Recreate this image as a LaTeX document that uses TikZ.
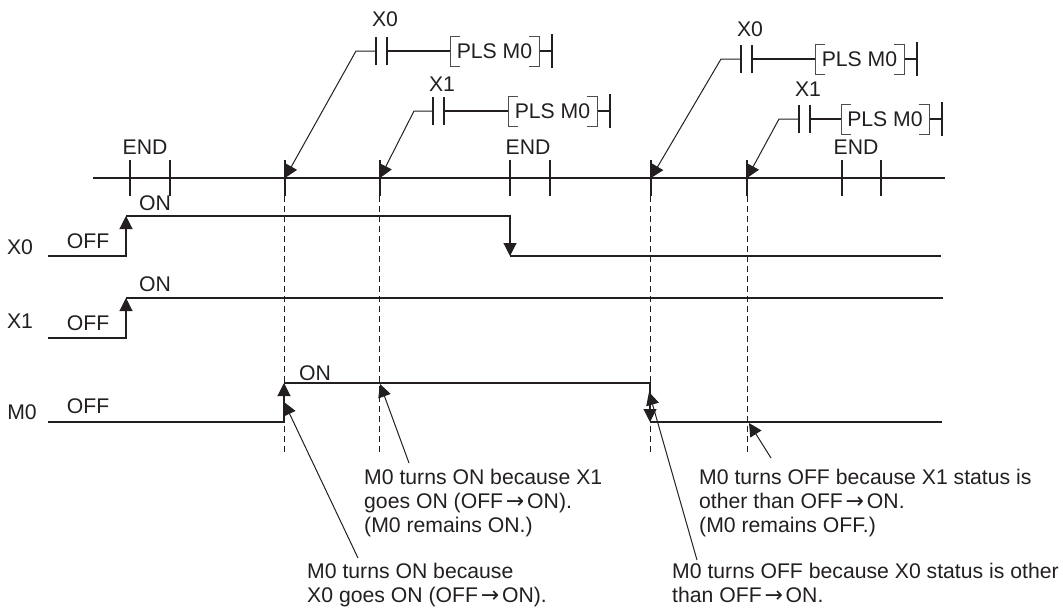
\documentclass[tikz,border=0pt]{standalone}
\usepackage{fontspec}
\setmainfont{Liberation Sans}
\newfontfamily\arrowfont{DejaVu Sans}
\usetikzlibrary{arrows.meta,positioning}
\definecolor{inkdark}{HTML}{231F20}
\newcommand{\toarrow}{\makebox[24pt]{\arrowfont\fontsize{22}{24}\selectfont →}}

\begin{document}
\begin{tikzpicture}[
  x=1pt, y=-1pt,
  every node/.style={font=\fontsize{21.2}{24}\selectfont, text=inkdark, inner sep=0pt},
  note/.style={align=left, anchor=base west},
  signal/.style={draw=inkdark, line width=1.3pt},
  tick/.style={draw=inkdark, line width=1.3pt},
  guide/.style={draw=inkdark, line width=0.7pt, dash pattern=on 6pt off 4pt},
  leader/.style={draw=inkdark, line width=1pt, -{Triangle[length=13pt,width=13pt]}},
  edgeup/.style={draw=inkdark, line width=1.1pt, -{Triangle[length=13pt,width=13pt]}}
]
\useasboundingbox (0,0) rectangle (1063,608);

% scan line
\coordinate (scanL) at (93,178);
\coordinate (scanR) at (945,178);
\draw[signal] (scanL) -- (scanR);
\foreach \x in {130,170,285,380,510,550,651,747,842,881} {
  \coordinate (t\x a) at (\x,160);
  \coordinate (t\x b) at (\x,196);
  \draw[tick] (t\x a) -- (t\x b);
}
\node (endA) at (145,147) {END};
\node (endB) at (528,147) {END};
\node (endC) at (856,147) {END};

% ladder rungs
\foreach \nm/\lbl/\ly/\y/\xa/\xb/\xc/\xd/\tip in {
  a/X0/19/51/356/376/450/539/285,
  b/X1/84/111/414/433/508/597/380,
  c/X0/29/59/721/741/815/904/651,
  d/X1/89/119/779/799/841/929/747} {
  \coordinate (\nm lead) at (\xa,\y);
  \coordinate (\nm barL) at (\xb,\y);
  \coordinate (\nm barR) at ({\xb+11},\y);
  \coordinate (\nm brL) at (\xc,\y);
  \coordinate (\nm brR) at (\xd,\y);
  \coordinate (\nm end) at ({\xd+13},\y);
  \coordinate (\nm tip) at (\tip,178);
  \node (\nm lbl) at ({\xb+9},\ly) {\lbl};
  \node (\nm pls) at ({(\xc+\xd)/2},\y) {PLS M0};
  \draw[leader] (\nm barL) -- (\nm lead) -- (\nm tip);
  \draw[tick] ([yshift=-14pt]\nm barL) -- ([yshift=14pt]\nm barL);
  \draw[tick] ([yshift=-14pt]\nm barR) -- ([yshift=14pt]\nm barR);
  \draw[tick] (\nm barR) -- (\nm brL);
  \draw[tick] (\nm brR) -- (\nm end);
  \draw[tick] ([yshift=-17pt]\nm end) -- ([yshift=17pt]\nm end);
  \draw[inkdark!80, line width=0.8pt] ([xshift=10pt,yshift=-15pt]\nm brL) -- ([yshift=-15pt]\nm brL)
    -- ([yshift=15pt]\nm brL) -- ([xshift=10pt,yshift=15pt]\nm brL);
  \draw[inkdark!80, line width=0.8pt] ([xshift=-10pt,yshift=-15pt]\nm brR) -- ([yshift=-15pt]\nm brR)
    -- ([yshift=15pt]\nm brR) -- ([xshift=-10pt,yshift=15pt]\nm brR);
}

% dashed guides
\foreach \x/\top in {284/196,379/196,650/196,747/196} {
  \coordinate (g\x a) at (\x,\top);
  \coordinate (g\x b) at (\x,452);
  \draw[guide] (g\x a) -- (g\x b);
}

% X0
\node (nameX0) at (20,247) {X0};
\node (offX0) at (88,241) {OFF};
\node (onX0) at (155,203) {ON};
\coordinate (x0a) at (48,256);
\coordinate (x0b) at (126,256);
\coordinate (x0c) at (126,216);
\coordinate (x0d) at (510,216);
\coordinate (x0e) at (510,256);
\coordinate (x0f) at (941,256);
\draw[edgeup] (x0a) -- (x0b) -- (x0c);
\draw[edgeup] (x0c) -- (x0d) -- (x0e);
\draw[signal] (x0e) -- (x0f);

% X1
\node (nameX1) at (20,321) {X1};
\node (offX1) at (88,323) {OFF};
\node (onX1) at (155,284) {ON};
\coordinate (x1a) at (48,338);
\coordinate (x1b) at (126,338);
\coordinate (x1c) at (126,298);
\coordinate (x1d) at (943,298);
\draw[edgeup] (x1a) -- (x1b) -- (x1c);
\draw[signal] (x1c) -- (x1d);

% M0
\node (nameM0) at (22,412) {M0};
\node (offM0) at (88,406) {OFF};
\node (onM0) at (315,373) {ON};
\coordinate (m0a) at (48,422);
\coordinate (m0b) at (284,422);
\coordinate (m0c) at (284,383);
\coordinate (m0d) at (650,383);
\coordinate (m0e) at (650,422);
\coordinate (m0f) at (942,422);
\draw[edgeup] (m0a) -- (m0b) -- (m0c);
\draw[edgeup] (m0c) -- (m0d) -- (m0e);
\draw[signal] (m0e) -- (m0f);

% notes
\node[note] (noteB) at (364,532) {M0 turns ON because X1\\goes ON (OFF\toarrow ON).\\(M0 remains ON.)};
\node[note] (noteA) at (307,602.5) {M0 turns ON because\\X0 goes ON (OFF\toarrow ON).};
\node[note] (noteD) at (699,532) {M0 turns OFF because X1 status is\\other than OFF\toarrow ON.\\(M0 remains OFF.)};
\node[note] (noteC) at (672,602.5) {M0 turns OFF because X0 status is other\\than OFF\toarrow ON.};

\coordinate (pA) at (358,558);
\coordinate (qA) at (284,402);
\coordinate (pB) at (409,463);
\coordinate (qB) at (380,384);
\coordinate (pC) at (697,560);
\coordinate (qC) at (649,392);
\coordinate (pD) at (771,458);
\coordinate (qD) at (749,423);
\foreach \n in {A,B,C,D} {
  \draw[leader] (p\n) -- (q\n);
}
\end{tikzpicture}
\end{document}
